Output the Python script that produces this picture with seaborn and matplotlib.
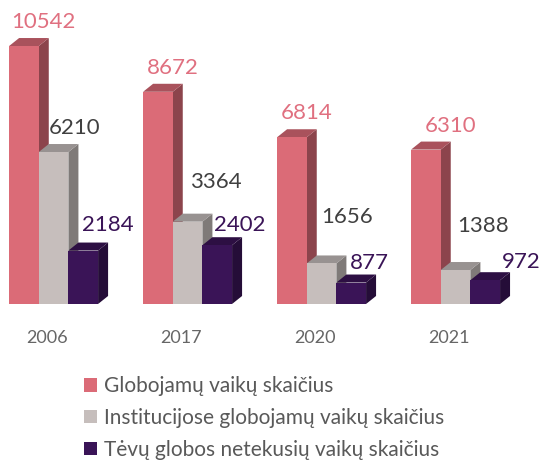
import matplotlib
matplotlib.use("Agg")
import matplotlib.pyplot as plt
import matplotlib.colors as mcolors
from matplotlib.patches import Patch, Polygon
from matplotlib.transforms import ScaledTranslation
import pandas as pd
import seaborn as sns

years = ["2006", "2017", "2020", "2021"]
globojamu = [10542, 8672, 6814, 6310]
institucijose = [6210, 3364, 1656, 1388]
netekusiu = [2184, 2402, 877, 972]

series = [
    "Globojamų vaikų skaičius",
    "Institucijose globojamų vaikų skaičius",
    "Tėvų globos netekusių vaikų skaičius",
]
colors = ["#DB6B77", "#C6BEBC", "#3A1457"]
label_colors = ["#E07080", "#404040", "#3A1457"]

# label offsets from bar top (pixels), as Excel placed them
label_offsets = [
    [(19, 24), (15, 24), (15, 24), (25, 24)],
    [(21, 24), (28, 40), (26, 46), (28, 44)],
    [(25, 26), (23, 20), (18, 20), (36, 18)],
]

df = pd.DataFrame({
    "Metai": years * 3,
    "Reiksme": globojamu + institucijose + netekusiu,
    "Rodiklis": [s for s in series for _ in years],
})

sns.set_style("white")
plt.rcParams["font.family"] = ["Lato", "DejaVu Sans"]

fig = plt.figure(figsize=(5.44, 4.61), dpi=100)
ax = fig.add_axes([0, 0.3406, 1, 0.6594])

sns.barplot(data=df, x="Metai", y="Reiksme", hue="Rodiklis", palette=colors,
            width=0.664, saturation=1, legend=False, linewidth=0, ax=ax)

ax.set_xlim(-0.4, 3.66)
ax.set_ylim(0, 12423)
sns.despine(left=True, bottom=True)
ax.set_yticks([])
ax.set_xlabel("")
ax.set_ylabel("")
ax.tick_params(axis="x", length=0, pad=19, labelsize=13, labelcolor="#666666")
for lab in ax.get_xticklabels():
    lab.set_transform(lab.get_transform() + ScaledTranslation(-7 / 100, 0, fig.dpi_scale_trans))

# 3D depth, in pixels -> data units
fig.canvas.draw()
p0 = ax.transData.transform((0, 0))
p1 = ax.transData.transform((1, 1000))
dx = 10 / (p1[0] - p0[0])
dy = 8 / (p1[1] - p0[1]) * 1000


def shade(c, f):
    r, g, b = mcolors.to_rgb(c)
    return (r * f, g * f, b * f)


bars = sorted(ax.patches, key=lambda p: p.get_x())
for i, bar in enumerate(bars):
    x0, w, h = bar.get_x(), bar.get_width(), bar.get_height()
    fc = bar.get_facecolor()
    z = 3 + 3 * i
    side = Polygon([(x0 + w, 0), (x0 + w + dx, dy), (x0 + w + dx, h + dy), (x0 + w, h)],
                   closed=True, facecolor=shade(fc, 0.64), edgecolor="none", zorder=z)
    top = Polygon([(x0, h), (x0 + dx, h + dy), (x0 + w + dx, h + dy), (x0 + w, h)],
                  closed=True, facecolor=shade(fc, 0.77), edgecolor="none", zorder=z + 1)
    ax.add_patch(side)
    ax.add_patch(top)
    bar.set_zorder(z + 2)

for k, vals in enumerate([globojamu, institucijose, netekusiu]):
    for bar, v, off in zip(ax.containers[k], vals, label_offsets[k]):
        ax.annotate(str(v), (bar.get_x() + bar.get_width() / 2, bar.get_height()),
                    xytext=off, textcoords="offset pixels", ha="center", va="center",
                    fontsize=16, color=label_colors[k], zorder=100)

handles = [Patch(facecolor=c, edgecolor="none") for c in colors]
fig.legend(handles, series, loc="upper left", bbox_to_anchor=(76 / 544, 1 - 368 / 461),
           frameon=False, fontsize=15, labelcolor="#595959", handlelength=0.62,
           handleheight=0.62, handletextpad=0.3, labelspacing=0.56, borderaxespad=0)

fig.savefig("out.png", dpi=100)
